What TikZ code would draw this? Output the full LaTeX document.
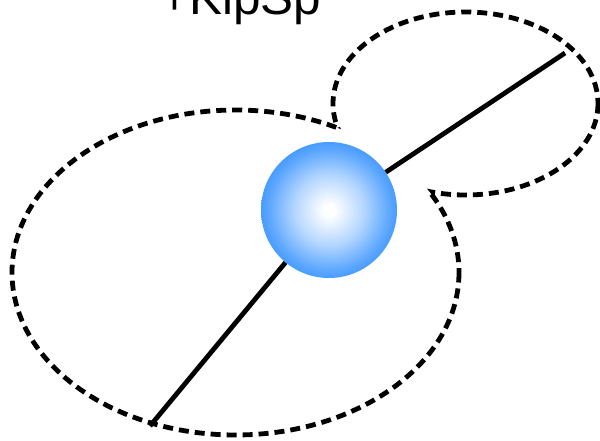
\documentclass[tikz,border=0pt]{standalone}
\usepackage{fontspec}
\setmainfont{Liberation Sans}
\usepackage{tikz}
\definecolor{ballblue}{RGB}{72,156,255}
\pgfdeclareradialshading{ballshade}{\pgfpoint{0bp}{0bp}}{%
  color(0bp)=(white); color(2bp)=(white); color(13bp)=(ballblue!42!white);
  color(22bp)=(ballblue!88!white); color(25bp)=(ballblue); color(50bp)=(ballblue)}

\begin{document}
\begin{tikzpicture}[
    x=1pt, y=-1pt,
    loopline/.style={line width=4.8pt, dash pattern=on 10pt off 6pt},
    stick/.style={line width=4.8pt},
    ball/.style={circle, minimum size=136pt, inner sep=0pt, shading=ballshade}
]
\useasboundingbox (0,0) rectangle (600,441);
\clip (0,0) rectangle (600,441);

% Label
\node (label) [anchor=base west, inner sep=0pt, font=\fontsize{49.5}{50}\selectfont] at (160,15) {+KipSp};

% Loops (outer outline of both)
\begin{scope}[even odd rule]
  \clip (0,0) rectangle (600,441) (465.5,103.5) ellipse (132.5 and 91.5);
  \draw[loopline] (235.5,272.5) ellipse (223.5 and 162.5);
\end{scope}
\begin{scope}[even odd rule]
  \clip (0,0) rectangle (600,441) (235.5,272.5) ellipse (223.5 and 162.5);
  \draw[loopline] (465.5,103.5) ellipse (132.5 and 91.5);
\end{scope}

% Nodes
\node (ball) [ball] at (329,210) {};
\coordinate (tipup) at (565,53);
\coordinate (tipdown) at (150,426);

\draw[stick] (ball) -- (tipup);
\draw[stick] (ball) -- (tipdown);
\end{tikzpicture}
\end{document}
